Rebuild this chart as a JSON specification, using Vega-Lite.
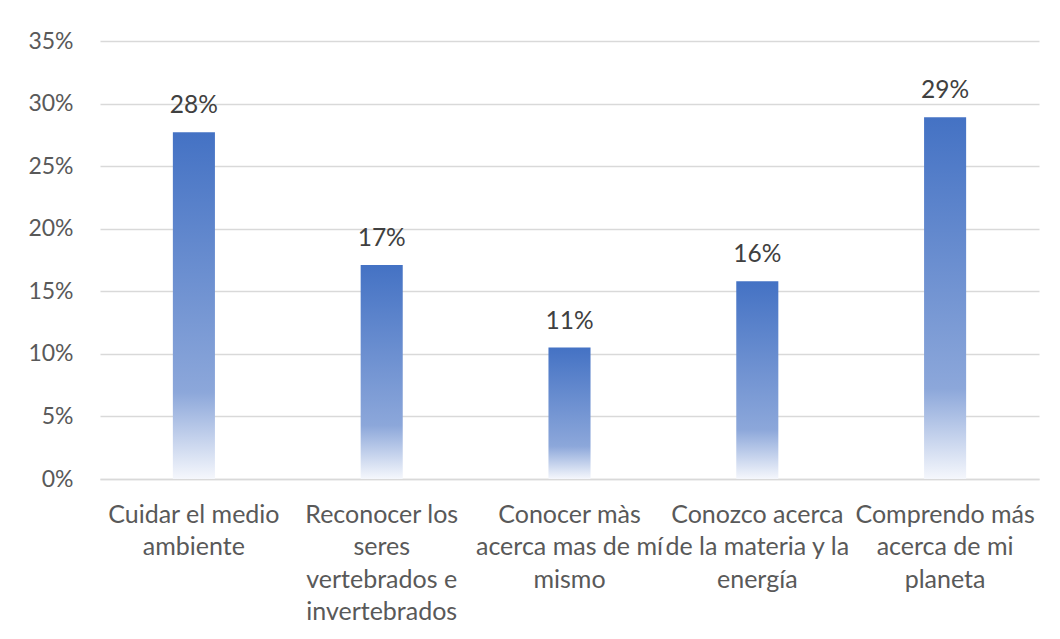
{
  "$schema": "https://vega.github.io/schema/vega-lite/v6.json",
  "autosize": "none",
  "width": 939,
  "height": 438,
  "padding": {"left": 100, "top": 41, "right": 21, "bottom": 160},
  "background": "white",
  "config": {"view": {"stroke": null}, "font": "Lato"},
  "data": {
    "values": [
      {"categoria": "Cuidar el medio ambiente", "valor": 0.277},
      {"categoria": "Reconocer los seres vertebrados e invertebrados", "valor": 0.171},
      {"categoria": "Conocer màs acerca mas de mí mismo", "valor": 0.105},
      {"categoria": "Conozco acerca de la materia y la energía", "valor": 0.158},
      {"categoria": "Comprendo más acerca de mi planeta", "valor": 0.289}
    ]
  },
  "encoding": {
    "x": {
      "field": "categoria",
      "type": "nominal",
      "sort": null,
      "scale": {"paddingInner": 0.776, "paddingOuter": 0.388},
      "axis": {
        "title": null,
        "labelAngle": 0,
        "ticks": false,
        "domain": true,
        "domainColor": "#d9d9d9",
        "domainWidth": 1.5,
        "labelFont": "Lato",
        "labelFontSize": 25,
        "labelColor": "#595959",
        "labelPadding": 23,
        "labelLineHeight": 32.5,
        "labelLimit": 0,
        "labelOverlap": false,
        "labelExpr": "datum.value == 'Cuidar el medio ambiente' ? ['Cuidar el medio', 'ambiente'] : datum.value == 'Reconocer los seres vertebrados e invertebrados' ? ['Reconocer los', 'seres', 'vertebrados e', 'invertebrados'] : datum.value == 'Conocer màs acerca mas de mí mismo' ? ['Conocer màs', 'acerca mas de mí', 'mismo'] : datum.value == 'Conozco acerca de la materia y la energía' ? ['Conozco acerca', 'de la materia y la', 'energía'] : ['Comprendo más', 'acerca de mi', 'planeta']"
      }
    },
    "y": {
      "field": "valor",
      "type": "quantitative",
      "scale": {"domain": [0, 0.35], "nice": false},
      "axis": {
        "title": null,
        "values": [0, 0.05, 0.1, 0.15, 0.2, 0.25, 0.3, 0.35],
        "format": ".0%",
        "domain": false,
        "ticks": false,
        "grid": true,
        "gridColor": "#d9d9d9",
        "gridWidth": 1.5,
        "labelFont": "Lato",
        "labelFontSize": 23,
        "labelColor": "#595959",
        "labelPadding": 27
      }
    }
  },
  "layer": [
    {
      "mark": {
        "type": "bar",
        "color": {
          "gradient": "linear",
          "x1": 0, "y1": 0, "x2": 0, "y2": 1,
          "stops": [
            {"offset": 0, "color": "#4472c4"},
            {"offset": 0.75, "color": "#8ca7da"},
            {"offset": 1, "color": "#f5f7fc"}
          ]
        }
      }
    },
    {
      "mark": {
        "type": "text",
        "baseline": "alphabetic",
        "dy": -19,
        "font": "Lato",
        "fontSize": 24.5,
        "color": "#404040"
      },
      "encoding": {
        "text": {"field": "valor", "type": "quantitative", "format": ".0%"}
      }
    }
  ]
}
